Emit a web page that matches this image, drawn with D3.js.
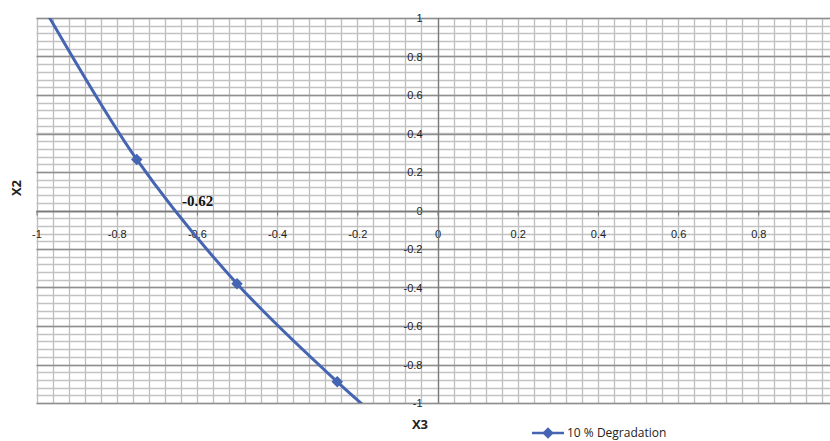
<!DOCTYPE html>
<html lang="en">
<head>
    <meta charset="UTF-8">
    <title>X2 vs X3 - 10 % Degradation</title>
    <script src="https://d3js.org/d3.v7.min.js"></script>
    <style>
        body { margin: 0; background: #fff; }
        svg { font-family: "Open Sans", "Noto Sans", Arial, sans-serif; display: block; }
        .tick-label { font-size: 11px; fill: #222; }
        .axis-title { font-size: 13px; font-weight: bold; fill: #222; }
        .legend-text { font-size: 12px; fill: #222; }
        svg text.note { font-family: "Liberation Serif", "DejaVu Serif", serif; font-size: 15px; font-weight: bold; fill: #111; }
    </style>
</head>
<body>
    <div id="chart"></div>
    <script>
        // series: 10 % Degradation (X3 on x, X2 on y); end points fall outside the plot and get clipped
        const x3Values = [-1, -0.75, -0.5, -0.25, 0];
        const x2Values = [1.12, 0.265, -0.38, -0.89, -1.34];
        const seriesName = "10 % Degradation";

        const xTickValues = [-1, -0.8, -0.6, -0.4, -0.2, 0, 0.2, 0.4, 0.6, 0.8];
        const yTickValues = [-1, -0.8, -0.6, -0.4, -0.2, 0, 0.2, 0.4, 0.6, 0.8, 1];
        const annotationText = "-0.62";

        const width = 830, height = 441;
        const plot = {left: 36.5, right: 838.5, top: 18, bottom: 403};

        const svg = d3.select("#chart").append("svg")
            .attr("width", width)
            .attr("height", height);

        const x = d3.scaleLinear().domain([-1, 1]).range([plot.left, plot.right]);
        const y = d3.scaleLinear().domain([-1, 1]).range([plot.bottom, plot.top]);

        const fmt = d => (+d.toFixed(2)).toString();

        // grid: minor every 0.04, major every 0.2
        const minorSteps = d3.range(51).map(i => -1 + i * 0.04);
        const grid = svg.append("g");

        grid.selectAll(".vgrid")
            .data(minorSteps)
            .enter().append("line")
            .attr("x1", d => Math.round(x(d)) + 0.5).attr("x2", d => Math.round(x(d)) + 0.5)
            .attr("y1", plot.top).attr("y2", plot.bottom)
            .attr("stroke", "#bdbdbd").attr("stroke-width", 1.3);

        grid.selectAll(".hgrid")
            .data(minorSteps)
            .enter().append("line")
            .attr("x1", plot.left).attr("x2", plot.right)
            .attr("y1", d => Math.round(y(d)) + 0.5).attr("y2", d => Math.round(y(d)) + 0.5)
            .attr("stroke", "#c2c2c2").attr("stroke-width", 1.3);

        grid.selectAll(".hmajor")
            .data(yTickValues)
            .enter().append("line")
            .attr("x1", plot.left).attr("x2", plot.right)
            .attr("y1", d => Math.round(y(d)) + 0.5).attr("y2", d => Math.round(y(d)) + 0.5)
            .attr("stroke", "#8f8f8f").attr("stroke-width", 1.3);

        // axes through the origin
        const xAxis = d3.axisBottom(x).tickValues(xTickValues).tickSize(4).tickPadding(15).tickFormat(fmt);
        const xAxisG = svg.append("g")
            .attr("transform", `translate(0,${Math.round(y(0)) + 0.5})`)
            .call(xAxis);
        xAxisG.select(".domain").remove();
        xAxisG.selectAll(".tick line").attr("stroke", "#7a7a7a");
        xAxisG.selectAll(".tick text").attr("class", "tick-label").attr("font-family", null).attr("font-size", null);

        const yAxis = d3.axisLeft(y).tickValues(yTickValues).tickSize(0).tickPadding(16).tickFormat(fmt);
        const yAxisG = svg.append("g")
            .attr("transform", `translate(${Math.round(x(0)) + 0.5},0)`)
            .call(yAxis);
        yAxisG.select(".domain").remove();
        yAxisG.selectAll(".tick text").attr("class", "tick-label").attr("font-family", null).attr("font-size", null);

        svg.append("line")
            .attr("x1", Math.round(x(0)) + 0.5).attr("x2", Math.round(x(0)) + 0.5)
            .attr("y1", plot.top).attr("y2", plot.bottom)
            .attr("stroke", "#7a7a7a").attr("stroke-width", 1.3);
        svg.append("line")
            .attr("x1", plot.left).attr("x2", plot.right)
            .attr("y1", Math.round(y(0)) + 0.5).attr("y2", Math.round(y(0)) + 0.5)
            .attr("stroke", "#7a7a7a").attr("stroke-width", 1.3);

        // series (clipped to plot area)
        svg.append("clipPath").attr("id", "plot-clip")
            .append("rect")
            .attr("x", plot.left).attr("y", plot.top)
            .attr("width", plot.right - plot.left).attr("height", plot.bottom - plot.top);

        const points = x3Values.map((v, i) => ({x3: v, x2: x2Values[i]}));
        const color = "#4565b3";

        const series = svg.append("g").attr("clip-path", "url(#plot-clip)");
        series.append("path")
            .datum(points)
            .attr("fill", "none")
            .attr("stroke", color)
            .attr("stroke-width", 3)
            .attr("d", d3.line().x(d => x(d.x3)).y(d => y(d.x2)).curve(d3.curveCatmullRom.alpha(0.5)));

        const diamond = d3.symbol().type(d3.symbolDiamond2).size(85);
        series.selectAll(".marker")
            .data(points)
            .enter().append("path")
            .attr("transform", d => `translate(${x(d.x3)},${y(d.x2)})`)
            .attr("d", diamond)
            .attr("fill", color);

        // annotation of the x intercept
        svg.append("text").attr("class", "note")
            .attr("x", 182).attr("y", 206)
            .style("font-family", "'Liberation Serif', 'DejaVu Serif', serif")
            .text(annotationText);

        // axis titles
        svg.append("text").attr("class", "axis-title")
            .attr("transform", "translate(21,188) rotate(-90)")
            .attr("text-anchor", "middle")
            .text("X2");
        svg.append("text").attr("class", "axis-title")
            .attr("x", 420).attr("y", 429)
            .attr("text-anchor", "middle")
            .text("X3");

        // legend
        const legend = svg.append("g").attr("transform", "translate(532,433)");
        legend.append("line")
            .attr("x1", 0).attr("x2", 32).attr("y1", 0).attr("y2", 0)
            .attr("stroke", color).attr("stroke-width", 2.5);
        legend.append("path")
            .attr("transform", "translate(16,0)")
            .attr("d", diamond)
            .attr("fill", color);
        legend.append("text").attr("class", "legend-text")
            .attr("x", 35).attr("y", 4)
            .text(seriesName);
    </script>
</body>
</html>
